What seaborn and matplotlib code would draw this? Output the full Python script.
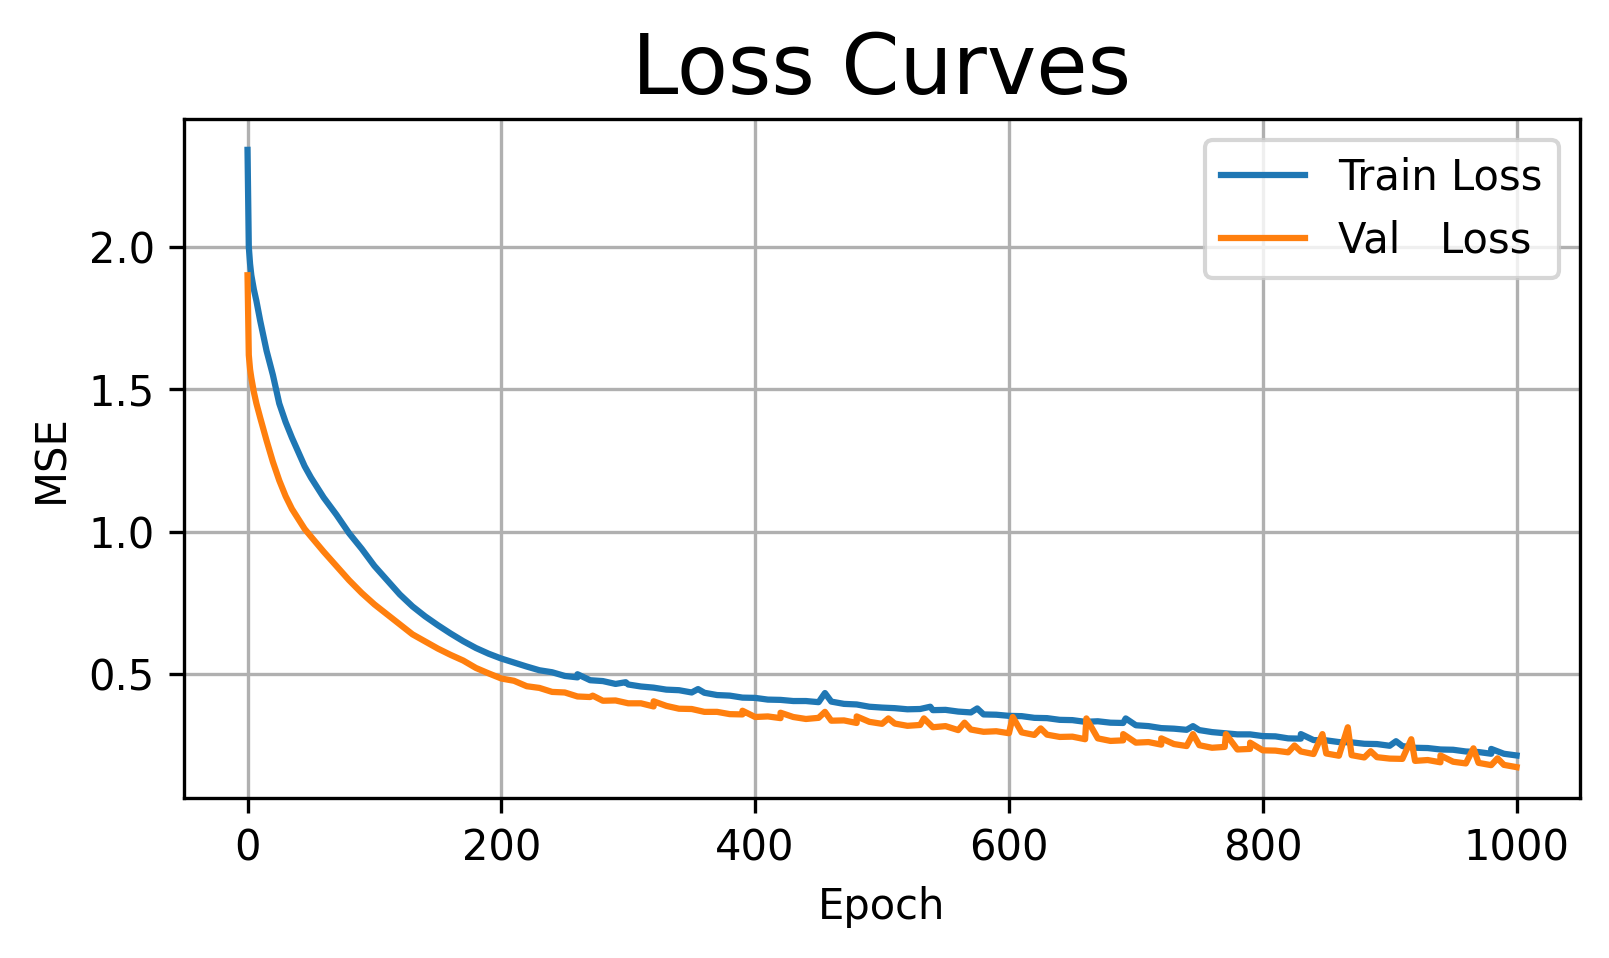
import numpy as np
import pandas as pd
import matplotlib
matplotlib.use('Agg')
import matplotlib.pyplot as plt
import seaborn as sns


# ── data ─────────────────────────────────────────────────────
epochs = [0, 1, 2, 3, 5, 7, 10, 15, 20, 25, 30, 35, 40, 45, 50] + list(range(60, 1001, 10))

train_loss = [
    2.34, 2.00, 1.94, 1.90, 1.85, 1.81,
    1.74, 1.635, 1.55, 1.45, 1.385, 1.33, 1.28, 1.23, 1.19,
    1.12, 1.06, 0.995, 0.94, 0.88, 0.83, 0.78, 0.738, 0.703, 0.672,
    0.643, 0.616, 0.592, 0.572, 0.555,
    0.541, 0.527, 0.514, 0.507, 0.494, 0.489, 0.479, 0.476, 0.466, 0.464,
    0.457, 0.453, 0.446, 0.444, 0.436, 0.435, 0.427, 0.425, 0.418, 0.417,
    0.411, 0.410, 0.406, 0.406, 0.402, 0.404, 0.396, 0.394, 0.386, 0.383,
    0.381, 0.377, 0.378, 0.374, 0.375, 0.369, 0.366, 0.359, 0.358, 0.354,
    0.353, 0.347, 0.346, 0.340, 0.339, 0.333, 0.335, 0.330, 0.329, 0.321,
    0.318, 0.311, 0.309, 0.305, 0.304, 0.297, 0.293, 0.289, 0.289, 0.283,
    0.282, 0.275, 0.274, 0.269, 0.268, 0.262, 0.261, 0.256, 0.255, 0.249,
    0.248, 0.242, 0.241, 0.236, 0.235, 0.229, 0.227, 0.221, 0.221, 0.215,
]

val_loss = [
    1.90, 1.62, 1.57, 1.54, 1.49, 1.45,
    1.40, 1.32, 1.245, 1.18, 1.125, 1.08, 1.045, 1.01, 0.983,
    0.93, 0.88, 0.83, 0.785, 0.745, 0.71, 0.675, 0.64, 0.615, 0.59,
    0.568, 0.548, 0.522, 0.503, 0.485,
    0.477, 0.458, 0.452, 0.438, 0.436, 0.422, 0.420, 0.407, 0.408, 0.398,
    0.398, 0.387, 0.389, 0.379, 0.378, 0.368, 0.368, 0.360, 0.359, 0.350,
    0.352, 0.346, 0.350, 0.343, 0.347, 0.337, 0.338, 0.329, 0.333, 0.326,
    0.327, 0.319, 0.322, 0.314, 0.318, 0.304, 0.306, 0.298, 0.300, 0.293,
    0.296, 0.287, 0.288, 0.280, 0.281, 0.272, 0.275, 0.266, 0.268, 0.260,
    0.262, 0.253, 0.255, 0.248, 0.251, 0.242, 0.245, 0.236, 0.238, 0.233,
    0.232, 0.226, 0.229, 0.220, 0.222, 0.214, 0.216, 0.208, 0.209, 0.204,
    0.203, 0.196, 0.199, 0.191, 0.193, 0.187, 0.189, 0.181, 0.182, 0.174,
]

# single-epoch spikes visible on the curves
train_spike_epochs = [260, 298, 355, 455, 538, 575, 692, 745, 830, 905, 980]
train_spike_vals = [0.500, 0.472, 0.448, 0.434, 0.386, 0.380, 0.345, 0.318, 0.290, 0.265, 0.238]
val_spike_epochs = [272, 320, 390, 420, 455, 480, 505, 533, 565, 603, 625, 661,
                    690, 720, 745, 771, 790, 825, 847, 867, 885, 917, 940, 966, 985]
val_spike_vals = [0.425, 0.405, 0.372, 0.365, 0.368, 0.352, 0.345, 0.345, 0.330, 0.350, 0.310, 0.345,
                  0.290, 0.275, 0.290, 0.290, 0.260, 0.250, 0.290, 0.314, 0.230, 0.272, 0.215, 0.240, 0.205]

train_label = 'Train Loss'
val_label = 'Val   Loss'


# ── build long-format table ──────────────────────────────────
df_train = pd.DataFrame({'Epoch': epochs + train_spike_epochs,
                         'MSE': train_loss + train_spike_vals,
                         'Series': train_label})
df_val = pd.DataFrame({'Epoch': epochs + val_spike_epochs,
                       'MSE': val_loss + val_spike_vals,
                       'Series': val_label})
df = pd.concat([df_train, df_val], ignore_index=True)


# ── plot ─────────────────────────────────────────────────────
fig, ax = plt.subplots(figsize=(1609 / 300, 958 / 300), dpi=300)
fig.subplots_adjust(left=0.1144, right=0.982, top=0.8758, bottom=0.167)

sns.lineplot(data=df, x='Epoch', y='MSE', hue='Series',
             palette=['#1f77b4', '#ff7f0e'], estimator=None,
             sort=True, linewidth=1.5, ax=ax)

ax.set_title('Loss Curves', fontsize=20)
ax.set_xlabel('Epoch')
ax.set_ylabel('MSE')
ax.set_xticks([0, 200, 400, 600, 800, 1000])
ax.set_yticks([0.5, 1.0, 1.5, 2.0])
ax.grid(True)
ax.legend(title=None, loc='upper right')

plt.savefig('out.png', dpi=300)
